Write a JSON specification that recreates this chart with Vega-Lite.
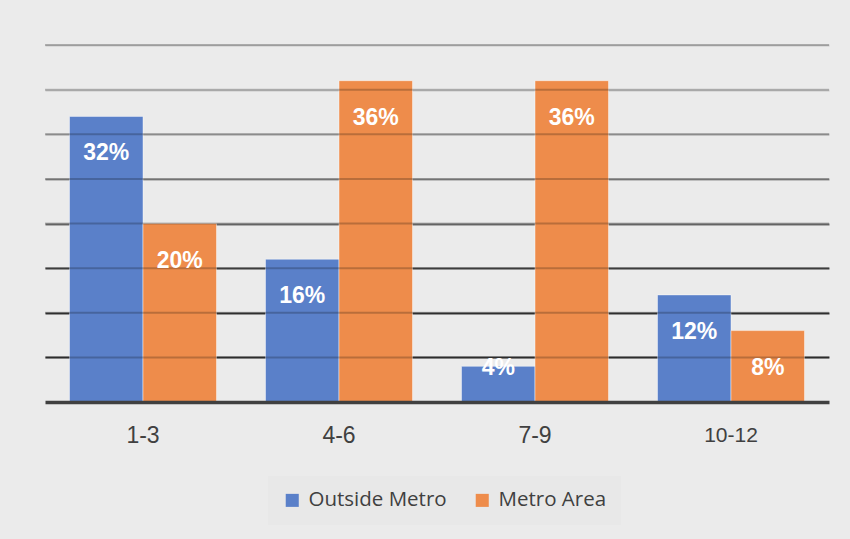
{
  "$schema": "https://vega.github.io/schema/vega-lite/v6.json",
  "width": 784,
  "height": 357,
  "autosize": {"type": "none"},
  "padding": {"left": 45, "top": 45, "right": 21, "bottom": 137},
  "background": "#ebebeb",
  "config": {"view": {"stroke": null}},
  "datasets": {
    "bars": [
      {"grade": "1-3", "series": "Outside Metro", "value": 32, "label": "32%"},
      {"grade": "1-3", "series": "Metro Area", "value": 20, "label": "20%"},
      {"grade": "4-6", "series": "Outside Metro", "value": 16, "label": "16%"},
      {"grade": "4-6", "series": "Metro Area", "value": 36, "label": "36%"},
      {"grade": "7-9", "series": "Outside Metro", "value": 4, "label": "4%"},
      {"grade": "7-9", "series": "Metro Area", "value": 36, "label": "36%"},
      {"grade": "10-12", "series": "Outside Metro", "value": 12, "label": "12%"},
      {"grade": "10-12", "series": "Metro Area", "value": 8, "label": "8%"}
    ],
    "grid": [
      {"level": 5}, {"level": 10}, {"level": 15}, {"level": 20},
      {"level": 25}, {"level": 30}, {"level": 35}, {"level": 40}
    ]
  },
  "layer": [
    {
      "data": {"name": "bars"},
      "mark": {"type": "bar", "stroke": "#ffffff", "strokeOpacity": 0.45, "strokeWidth": 1},
      "encoding": {
        "x": {
          "field": "grade",
          "type": "nominal",
          "sort": ["1-3", "4-6", "7-9", "10-12"],
          "scale": {"paddingInner": 0.25, "paddingOuter": 0.125},
          "axis": {
            "title": null,
            "ticks": false,
            "labelAngle": 0,
            "labelFont": "Liberation Sans",
            "labelFontSize": {"condition": {"test": "datum.value == '10-12'", "value": 21}, "value": 23},
            "labelColor": "#404040",
            "labelBaseline": "middle",
            "labelPadding": 33,
            "domainColor": "#404040",
            "domainWidth": 3.5,
            "zindex": 1
          }
        },
        "xOffset": {"field": "series", "type": "nominal", "sort": ["Outside Metro", "Metro Area"]},
        "y": {
          "field": "value",
          "type": "quantitative",
          "scale": {"domain": [0, 40], "nice": false},
          "axis": {
            "title": null,
            "labels": false,
            "ticks": false,
            "domain": false,
            "values": [5, 10, 15, 20, 25, 30, 35, 40],
            "gridWidth": 2,
            "gridColor": {
              "condition": [
                {"test": "datum.value >= 35", "value": "#c4c4c4"},
                {"test": "datum.value >= 30", "value": "#a8a8a8"},
                {"test": "datum.value >= 25", "value": "#858585"},
                {"test": "datum.value >= 20", "value": "#5a5a5a"},
                {"test": "datum.value >= 15", "value": "#333333"}
              ],
              "value": "#1a1a1a"
            },
            "gridOpacity": 0.85
          }
        },
        "color": {
          "field": "series",
          "type": "nominal",
          "scale": {"domain": ["Outside Metro", "Metro Area"], "range": ["#5a80c9", "#ee8c4b"]},
          "legend": {
            "title": null,
            "orient": "none",
            "direction": "horizontal",
            "legendX": 223,
            "legendY": 431,
            "fillColor": "#e8e8e8",
            "padding": 14,
            "symbolType": "square",
            "symbolSize": 170,
            "symbolStrokeWidth": 0,
            "labelFont": "Open Sans",
            "labelFontSize": 20.5,
            "labelColor": "#404040",
            "labelOffset": 6,
            "columnPadding": 25,
            "symbolOffset": 0
          }
        }
      }
    },
    {
      "data": {"name": "grid"},
      "mark": {"type": "rule", "color": "#000000", "strokeWidth": 2, "strokeOpacity": 0.22},
      "encoding": {"y": {"field": "level", "type": "quantitative"}}
    },
    {
      "data": {"name": "bars"},
      "transform": [{"filter": "datum.value >= 8"}],
      "mark": {"type": "text", "color": "white", "font": "Liberation Sans", "fontWeight": "bold", "fontSize": 23, "baseline": "middle", "dy": 37},
      "encoding": {
        "x": {"field": "grade", "type": "nominal", "sort": ["1-3", "4-6", "7-9", "10-12"]},
        "xOffset": {"field": "series", "type": "nominal", "sort": ["Outside Metro", "Metro Area"]},
        "y": {"field": "value", "type": "quantitative"},
        "text": {"field": "label"}
      }
    },
    {
      "data": {"name": "bars"},
      "transform": [{"filter": "datum.value < 8"}],
      "mark": {"type": "text", "color": "white", "font": "Liberation Sans", "fontWeight": "bold", "fontSize": 23, "baseline": "middle", "dy": 2},
      "encoding": {
        "x": {"field": "grade", "type": "nominal", "sort": ["1-3", "4-6", "7-9", "10-12"]},
        "xOffset": {"field": "series", "type": "nominal", "sort": ["Outside Metro", "Metro Area"]},
        "y": {"field": "value", "type": "quantitative"},
        "text": {"field": "label"}
      }
    }
  ]
}
